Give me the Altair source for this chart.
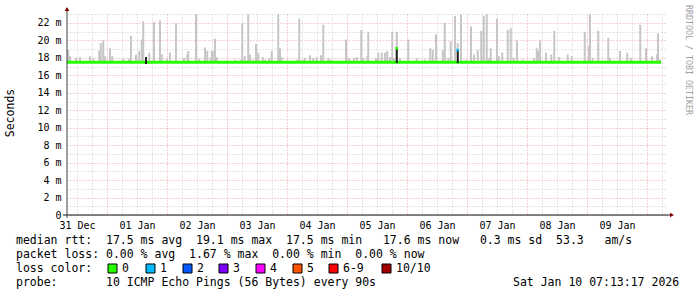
import altair as alt
import pandas as pd

# ---------------- data (hours after 31 Dec 00:00) ----------------
day_labels = ["31 Dec", "01 Jan", "02 Jan", "03 Jan", "04 Jan",
              "05 Jan", "06 Jan", "07 Jan", "08 Jan", "09 Jan"]

smoke_hours = [8.5, 9.2, 11.6, 13.2, 17.2, 18.5, 20.9, 21.5, 22.5, 23.2, 25.2, 26.1,
               30.5, 32.9, 33.6, 35.6, 36.9, 37.9, 38.5, 40.9, 42.8, 45.2, 45.9, 47.9,
               49.2, 51.6, 54.8, 56.1, 56.5, 59.6, 60.9, 63.2, 64.1, 65.5, 65.9, 66.3,
               67.2, 67.9, 75.2, 77.5, 78.1, 79.1, 80.5, 81.2, 82.3, 83.6, 84.5, 86.3,
               87.2, 88.9, 89.9, 92.5, 93.2, 93.9, 100.1, 100.9, 102.3, 103.2, 105.2,
               106.5, 107.9, 109.6, 110.5, 112.5, 113.5, 119.6, 120.9, 122.8, 123.9,
               125.7, 126.5, 128.1, 128.5, 131.6, 132.5, 133.9, 135.2, 136.1, 137.2,
               138.1, 138.8, 139.9, 141.2, 144.5, 147.9, 151.2, 153.3, 154.3, 155.6,
               158.3, 159.1, 160.5, 161.5, 163.2, 164.3, 165.6, 167.6, 169.6, 170.8,
               172.3, 173.7, 174.7, 175.9, 176.7, 177.5, 180.0, 180.7, 182.1, 184.3,
               185.5, 186.7, 188.0, 190.3, 194.8, 195.9, 196.5, 197.2, 199.6, 201.7,
               202.9, 204.9, 208.3, 209.9, 215.1, 216.8, 217.2, 218.3, 220.5, 224.5,
               225.2, 229.2, 232.1, 233.5, 237.3, 239.6, 242.0, 244.0, 244.4, 245.2]
smoke_top = [18.9, 18.2, 18.0, 18.1, 18.2, 17.9, 18.8, 19.7, 20.0, 18.2, 19.1, 18.2,
             17.9, 17.9, 20.5, 18.4, 18.8, 20.1, 22.2, 18.6, 22.1, 22.3, 18.4, 17.9,
             18.6, 22.0, 18.0, 18.4, 18.8, 23.0, 17.9, 19.2, 18.8, 18.0, 18.8, 18.8,
             20.2, 18.1, 17.8, 17.8, 22.0, 18.2, 23.0, 18.4, 17.8, 19.6, 18.6, 18.1,
             17.8, 18.0, 18.8, 23.0, 19.1, 18.1, 17.8, 22.5, 17.8, 18.0, 18.3,
             18.0, 18.1, 18.3, 21.8, 18.0, 17.8, 20.1, 18.0, 18.0, 18.1,
             21.2, 18.0, 18.2, 21.0, 18.0, 18.6, 18.6, 18.6, 18.8, 18.1,
             21.0, 18.0, 21.0, 18.0, 20.1, 18.0, 17.8, 19.1, 18.9, 20.7,
             18.9, 22.0, 18.0, 19.9, 22.8, 19.7, 23.0, 17.8, 21.6, 18.4,
             18.9, 21.1, 22.8, 23.0, 18.0, 19.1, 22.5, 18.2, 18.6, 21.2,
             21.4, 18.0, 20.0, 17.8, 18.0, 19.1, 18.8, 20.0, 18.6, 18.4,
             21.1, 18.1, 18.4, 18.2, 21.0, 19.4, 23.0, 18.0, 21.1, 20.3,
             18.0, 18.8, 18.6, 18.0, 21.8, 19.1, 18.2, 18.4, 20.8, 17.8]

median_hours = [8.0, 245.6]
median_rtt = [17.5, 17.5]

dark_hours = [39.6, 139.9, 164.3]
dark_low = [17.3, 17.4, 17.4]
dark_high = [18.1, 19.1, 18.9]

loss_hours = [139.9, 164.3]
loss_rtt = [19.1, 18.9]
loss_col = ["#26ff00", "#00b8ff"]

legend_names = ["0", "1", "2", "3", "4", "5", "6-9", "10/10"]
legend_cols = ["#26ff00", "#00b8ff", "#0059ff", "#7e00ff", "#ff00ff",
               "#ff5500", "#ff0000", "#a10000"]

legend_line1 = "median rtt:  17.5 ms avg  19.1 ms max  17.5 ms min   17.6 ms now   0.3 ms sd  53.3   am/s"
legend_line2 = "packet loss: 0.00 % avg  1.67 % max  0.00 % min  0.00 % now"
legend_line4 = "probe:       10 ICMP Echo Pings (56 Bytes) every 90s"
stamp = "Sat Jan 10 07:13:17 2026"

base_ms = 17.5
smoke_df = pd.DataFrame({"hour": smoke_hours, "top": smoke_top,
                         "base": [base_ms] * len(smoke_hours)})
median_df = pd.DataFrame({"hour": median_hours, "top": median_rtt})
dark_df = pd.DataFrame({"hour": dark_hours, "top": dark_high, "base": dark_low})
loss_df = pd.DataFrame({"hour": loss_hours, "top": loss_rtt, "c": loss_col})

MONO = "DejaVu Sans Mono"
W, H = 600, 201
L, T = 67, 14
RED = "#e8a4a4"
GREY = "#cccccc"

label_array = "[" + ",".join("'%s'" % d for d in day_labels) + "]"

x_enc = alt.X("hour:Q",
              scale=alt.Scale(domain=[8, 248], nice=False, zero=False),
              axis=alt.Axis(values=list(range(12, 247, 6)), grid=True,
                            gridColor={"condition": {"test": "datum.value % 24 == 0",
                                                     "value": RED},
                                       "value": GREY},
                            gridDash=[1, 2], gridWidth=1, ticks=False, domain=False,
                            labelExpr="datum.value % 24 == 12 ? " + label_array +
                                      "[floor(datum.value / 24)] : ''",
                            labelFont=MONO, labelFontSize=10, labelColor="black",
                            labelPadding=5, labelOverlap=False, labelFlush=False,
                            title=None))
y_enc = alt.Y("top:Q",
              scale=alt.Scale(domain=[0, 23.03], nice=False, zero=True),
              axis=alt.Axis(values=list(range(0, 24)), grid=True,
                            gridColor={"condition": {"test": "datum.value % 2 == 0",
                                                     "value": RED},
                                       "value": GREY},
                            gridDash=[1, 2], gridWidth=1, ticks=False, domain=False,
                            labelExpr="datum.value == 0 ? '0' : (datum.value % 2 == 0 ? datum.value + ' m' : '')",
                            labelFont=MONO, labelFontSize=10, labelColor="black",
                            labelPadding=6, labelOverlap=False, title=None))

smoke = alt.Chart(smoke_df).mark_rule(color="#c6c6c6", strokeWidth=2).encode(
    x=x_enc, y=y_enc, y2="base:Q")
median = alt.Chart(median_df).mark_line(color="#26ff00", strokeWidth=3,
                                        strokeCap="butt").encode(x=x_enc, y=y_enc)
dark = alt.Chart(dark_df).mark_rule(color="#1e1e1e", strokeWidth=2).encode(
    x=x_enc, y=y_enc, y2="base:Q")
loss = alt.Chart(loss_df).mark_square(size=7, opacity=1).encode(
    x=x_enc, y=y_enc, color=alt.Color("c:N", scale=None))

one = pd.DataFrame({"a": [0]})
deco = []
# axis lines
deco.append(alt.Chart(one).mark_rule(color="#101010", strokeWidth=1).encode(
    x=alt.value(-4), x2=alt.value(W + 4), y=alt.value(H)))
deco.append(alt.Chart(one).mark_rule(color="#404040", strokeWidth=1).encode(
    x=alt.value(0), y=alt.value(-3), y2=alt.value(H + 3)))
# arrows
deco.append(alt.Chart(one).mark_point(shape="triangle-up", filled=True, size=22,
                                      color="#8b0000", opacity=1).encode(
    x=alt.value(0), y=alt.value(-5)))
deco.append(alt.Chart(one).mark_point(shape="triangle-right", filled=True, size=22,
                                      color="#8b0000", opacity=1).encode(
    x=alt.value(W + 5), y=alt.value(H)))

NBSP = "\u00a0"

def txt(s, x, y, size=11.5, color="black", angle=0, align="left"):
    return alt.Chart(one).mark_text(text=s.replace(" ", NBSP), font=MONO, fontSize=size,
                                    color=color, angle=angle, align=align,
                                    baseline="middle").encode(
        x=alt.value(x - L), y=alt.value(y - T))

deco.append(txt("Seconds", 11, 113, size=11.5, angle=270, align="center"))
deco.append(txt("RRDTOOL / TOBI OETIKER", 688, 5, size=8.3, color="#a0a0a0", angle=90))

deco.append(txt(legend_line1, 16, 241))
deco.append(txt(legend_line2, 16, 255))
deco.append(txt("loss color:", 16, 269))
box_x = [108, 146, 183, 219, 256, 293, 329, 382]
for name, col, bx in zip(legend_names, legend_cols, box_x):
    deco.append(alt.Chart(one).mark_rect(color=col, stroke="black", strokeWidth=1).encode(
        x=alt.value(bx - L), x2=alt.value(bx - L + 9),
        y=alt.value(264 - T), y2=alt.value(273 - T)))
    deco.append(txt(name, bx + 14, 269))
deco.append(txt(legend_line4, 16, 283))
deco.append(txt(stamp, 513, 283))

chart = alt.layer(smoke, median, dark, loss, *deco).properties(
    width=W, height=H,
    autosize=alt.AutoSizeParams(type="none"),
    padding={"left": L, "top": T, "right": 697 - L - W, "bottom": 297 - T - H},
    background="white",
).configure_view(stroke=None)

chart.save("out.html", embed_options={"renderer": "svg", "actions": False})
